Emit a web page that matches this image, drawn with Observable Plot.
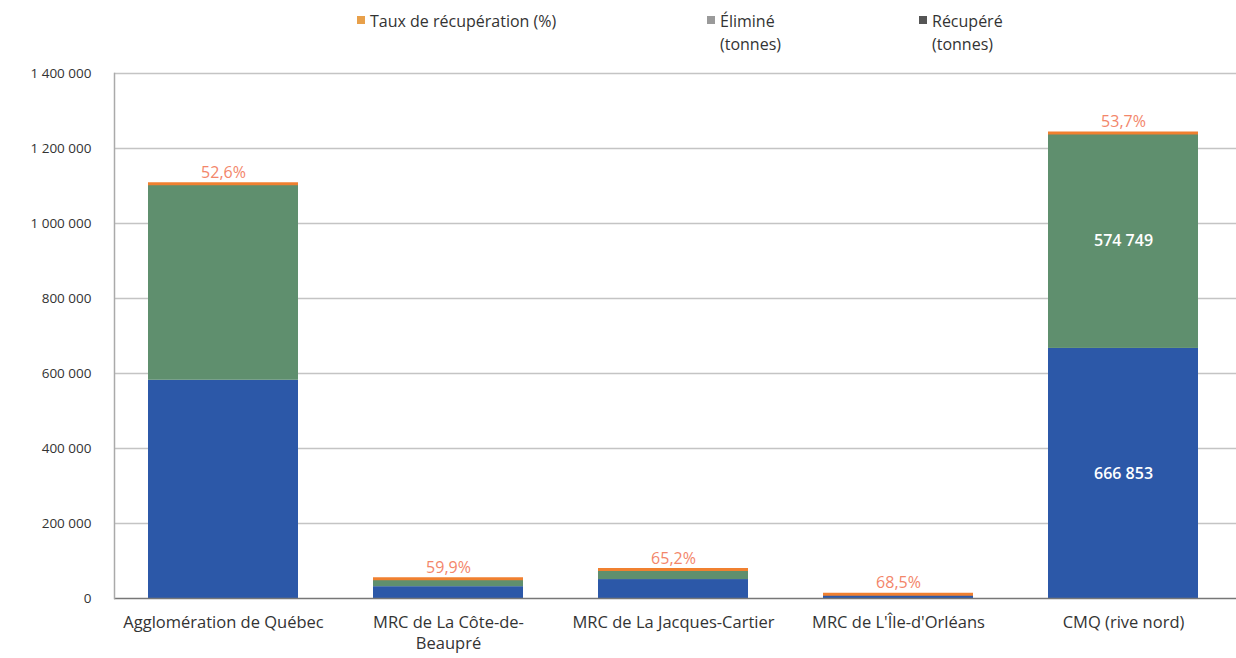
<!DOCTYPE html>
<html>
<head>
<meta charset="utf-8">
<script src="https://cdn.jsdelivr.net/npm/d3@7"></script>
<script src="https://cdn.jsdelivr.net/npm/@observablehq/plot@0.6"></script>
<style>
  html, body { margin: 0; padding: 0; background: #fff; }
  body { width: 1236px; height: 658px; overflow: hidden; font-family: "Open Sans", sans-serif; }
  #legend { position: relative; height: 62px; font-size: 16px; color: #333; }
  .item { position: absolute; top: 10px; line-height: 23px; }
  .sw { display: inline-block; width: 8px; height: 8px; margin-right: 5px; vertical-align: top; margin-top: 6px; }
</style>
</head>
<body>
<div id="legend"></div>
<div id="chart"></div>
<script>
const regions = ["Agglomération de Québec", "MRC de La Côte-de-Beaupré", "MRC de La Jacques-Cartier", "MRC de L'Île-d'Orléans", "CMQ (rive nord)"];
const tickLabels = ["Agglomération de Québec", "MRC de La Côte-de-\nBeaupré", "MRC de La Jacques-Cartier", "MRC de L'Île-d'Orléans", "CMQ (rive nord)"];
const recupere = [582000, 31500, 50500, 7850, 666853];
const elimine = [524000, 21100, 27000, 3600, 574749];
const taux = ["52,6%", "59,9%", "65,2%", "68,5%", "53,7%"];
const yTicks = [0, 200000, 400000, 600000, 800000, 1000000, 1200000, 1400000];
const legendItems = [
  {label: "Taux de récupération (%)", color: "#e8a04a", left: 357},
  {label: "Éliminé<br>(tonnes)", color: "#9a9a9a", left: 707},
  {label: "Récupéré<br>(tonnes)", color: "#555555", left: 919}
];
const colors = {rec: "#2c58a8", elim: "#5f8f6e", taux: "#f08030", label: "#f3866a"};

const data = regions.map((r, i) => ({
  region: r, rec: recupere[i], elim: elimine[i], total: recupere[i] + elimine[i], taux: taux[i]
}));
const cmq = data.filter(d => d.region === "CMQ (rive nord)");
const fmt = v => d3.format(",")(v).replace(/,/g, " ");

const legend = document.getElementById("legend");
legendItems.forEach(it => {
  const d = document.createElement("div");
  d.className = "item";
  d.style.left = it.left + "px";
  d.innerHTML = `<span class="sw" style="background:${it.color}"></span><span style="display:inline-block;vertical-align:top">${it.label}</span>`;
  legend.appendChild(d);
});

const chart = Plot.plot({
  width: 1236,
  height: 596,
  marginTop: 11,
  marginBottom: 60,
  marginLeft: 114,
  marginRight: 0,
  style: {fontFamily: "Open Sans, sans-serif", fontSize: "14px", color: "#333", background: "#fff"},
  x: {domain: regions, range: [147, 1199], paddingInner: 0.333, paddingOuter: 0, label: null},
  y: {domain: [0, 1400000], ticks: yTicks, label: null},
  marks: [
    Plot.ruleY(yTicks.slice(1), {stroke: "#c4c4c4", strokeWidth: 1.5}),
    Plot.barY(data, {x: "region", y1: 0, y2: "rec", fill: colors.rec}),
    Plot.barY(data, {x: "region", y1: "rec", y2: "total", fill: colors.elim}),
    Plot.tickY(data, {x: "region", y: "total", stroke: colors.taux, strokeWidth: 3}),
    Plot.text(data, {x: "region", y: "total", text: "taux", dy: -11, fill: colors.label, fontSize: 16}),
    Plot.text(cmq, {x: "region", y: d => d.rec / 2, text: d => fmt(d.rec), fill: "white", fontSize: 16, fontWeight: 600}),
    Plot.text(cmq, {x: "region", y: d => d.rec + d.elim / 2, text: d => fmt(d.elim), fill: "white", fontSize: 16, fontWeight: 600}),
    Plot.ruleY([0], {stroke: "#777", strokeWidth: 1.5}),
    Plot.frame({anchor: "left", stroke: "#aaa", strokeWidth: 1.5}),
    Plot.axisY({ticks: yTicks, tickSize: 0, tickPadding: 23, tickFormat: fmt, fontSize: 13.5, label: null}),
    Plot.axisX({tickSize: 0, tickPadding: 14, fontSize: 16.5, lineHeight: 1.3, label: null, tickFormat: d => tickLabels[regions.indexOf(d)]})
  ]
});
document.getElementById("chart").appendChild(chart);
</script>
</body>
</html>
